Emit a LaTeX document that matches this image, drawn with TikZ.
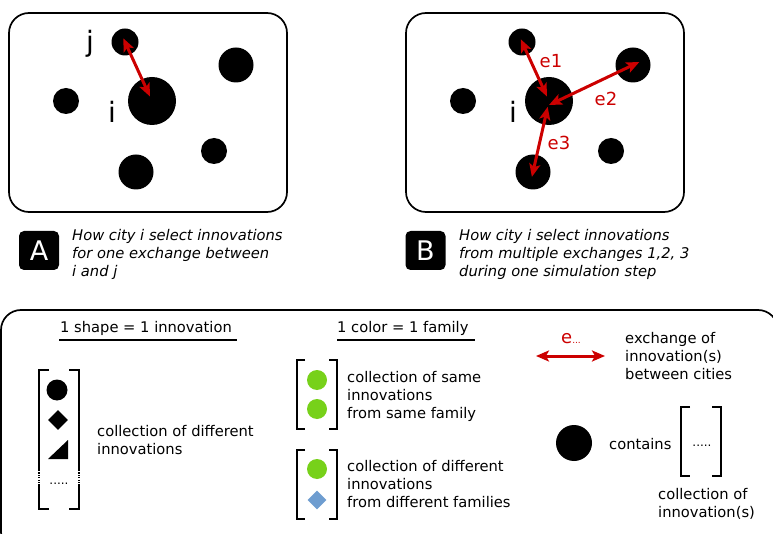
\documentclass[tikz,border=0pt]{standalone}
\usepackage{fontspec}
\setmainfont{DejaVu Sans}
\usetikzlibrary{arrows.meta}
\usetikzlibrary{shapes.geometric}
\definecolor{exred}{HTML}{CC0000}
\definecolor{famgreen}{HTML}{77D11A}
\definecolor{famblue}{HTML}{6E9DD0}
\tikzset{
  panel/.style={line width=1.7pt, rounded corners=20pt},
  city/.style={circle, fill=black, inner sep=0pt, minimum size=#1},
  exch/.style={draw=exred, line width=3pt, {Stealth[length=13pt,width=11pt,inset=3pt]}-{Stealth[length=13pt,width=11pt,inset=3pt]}},
  big/.style={inner sep=0pt, font=\fontsize{28}{28}\selectfont},
  elab/.style={inner sep=0pt, text=exred, font=\fontsize{18}{18}\selectfont},
  tag/.style={fill=black, rounded corners=5pt, minimum width=40pt, minimum height=39pt, inner sep=0pt, text=white, font=\fontsize{27}{27}\selectfont},
  txt/.style={inner sep=0pt, align=left, font=\fontsize{14.7}{18}\selectfont},
  captxt/.style={inner sep=0pt, align=left, font=\fontsize{14.7}{18}\selectfont\itshape},
  brk/.style={line width=2pt},
  inno/.style={fill=#1, inner sep=0pt, minimum size=20pt},
  dots/.style={inner sep=0pt, font=\fontsize{12}{12}\selectfont, anchor=base}
}
\begin{document}
\begin{tikzpicture}[x=1pt, y=-1pt]
\path[use as bounding box, clip] (0,0) rectangle (773,534);

\foreach \p/\dx in {a/0, b/397} {
  \draw[panel] (9+\dx,13) rectangle (287+\dx,212);
  \node[city=27pt] (\p j) at (125+\dx,42) {};
  \node[city=48pt] (\p i) at (152+\dx,101) {};
  \node[city=35pt] (\p 1) at (236+\dx,65) {};
  \node[city=26pt] (\p 2) at (66+\dx,101) {};
  \node[city=35pt] (\p 3) at (136+\dx,172) {};
  \node[city=26pt] (\p 4) at (214+\dx,151) {};
}

\node[big, anchor=base] (ajl) at (90,52) {j};
\node[big, anchor=base] (ail) at (112,123) {i};
\draw[exch, shorten <=-4pt, shorten >=5pt] (aj.center) -- (ai.center);
\node[tag] (tagA) at (39,250.5) {A};
\node[captxt, anchor=base west] (capA) at (72,277) {How city i select innovations\\for one exchange between\\i and j};

\node[big, anchor=base] (bil) at (513,123) {i};
\draw[exch, shorten <=-3pt, shorten >=5pt] (bj.center) -- (bi.center);
\draw[exch, shorten <=-7pt] (b1.center) -- ([yshift=-4pt]bi.center);
\draw[exch, shorten <=6pt, shorten >=-5pt] (bi.center) -- (b3.center);
\node[elab, anchor=base] (e1) at (551,68) {e1};
\node[elab, anchor=base] (e2) at (606,106) {e2};
\node[elab, anchor=base] (e3) at (559,150) {e3};
\node[tag] (tagB) at (425.5,250.5) {B};
\node[captxt, anchor=base west] (capB) at (459,277) {How city i select innovations\\from multiple exchanges 1,2, 3\\during one simulation step};

\draw[panel] (1,310) rectangle (778,552);

\node[txt, anchor=base west] (hshape) at (60,332) {1 shape = 1 innovation};
\draw[line width=1.5pt] (59,340) -- (237,340);
\node[txt, anchor=base west] (hcolor) at (337,332) {1 color = 1 family};
\draw[line width=1.5pt] (337,340) -- (475,340);

\draw[brk] (49,370) -- (39,370) -- (39,470);
\draw[brk, dash pattern=on 1.2pt off 1.2pt] (39,470) -- (39,486);
\draw[brk] (39,486) -- (39,509) -- (49,509);
\draw[brk] (69,370) -- (79,370) -- (79,470);
\draw[brk, dash pattern=on 1.2pt off 1.2pt] (79,470) -- (79,486);
\draw[brk] (79,486) -- (79,509) -- (69,509);
\node[circle, inno=black, minimum size=21pt] (sdot) at (57,390) {};
\node[diamond, inno=black] (sdia) at (58,420) {};
\fill (48,459) -- (68,459) -- (68,440) -- cycle;
\node[dots] (sdots) at (59,484) {.....};
\node[txt, anchor=base west] (tshape) at (97,454) {collection of different\\innovations};

\foreach \ty in {360, 450} {
  \draw[brk] (305,\ty) -- (297,\ty) -- (297,\ty+69) -- (305,\ty+69);
  \draw[brk] (329,\ty) -- (337,\ty) -- (337,\ty+69) -- (329,\ty+69);
}
\node[circle, inno=famgreen] (g1) at (317,380) {};
\node[circle, inno=famgreen] (g2) at (317,409) {};
\node[txt, anchor=base west] (tsame) at (347,418) {collection of same\\innovations\\from same family};
\node[circle, inno=famgreen] (g3) at (317,469) {};
\node[diamond, inno=famblue, minimum size=19pt] (d1) at (317,500) {};
\node[txt, anchor=base west] (tdiff) at (347,507) {collection of different\\innovations\\from different families};

\coordinate (exl) at (536,356);
\coordinate (exr) at (605,356);
\draw[exch] (exl) -- (exr);
\node[elab, anchor=base] (elg) at (571,343) {e{\fontsize{9}{9}\selectfont...}};
\node[txt, anchor=base west] (texch) at (625,379) {exchange of\\innovation(s)\\between cities};

\node[city=36pt] (cc) at (574,443) {};
\node[txt, anchor=base west] (tcont) at (609,449) {contains};
\draw[brk] (690,407) -- (681,407) -- (681,476) -- (690,476);
\draw[brk] (712,407) -- (721,407) -- (721,476) -- (712,476);
\node[dots] (cdots) at (702,446) {.....};
\node[txt, anchor=base west] (tcoll) at (658,517) {collection of\\innovation(s)};
\end{tikzpicture}
\end{document}
